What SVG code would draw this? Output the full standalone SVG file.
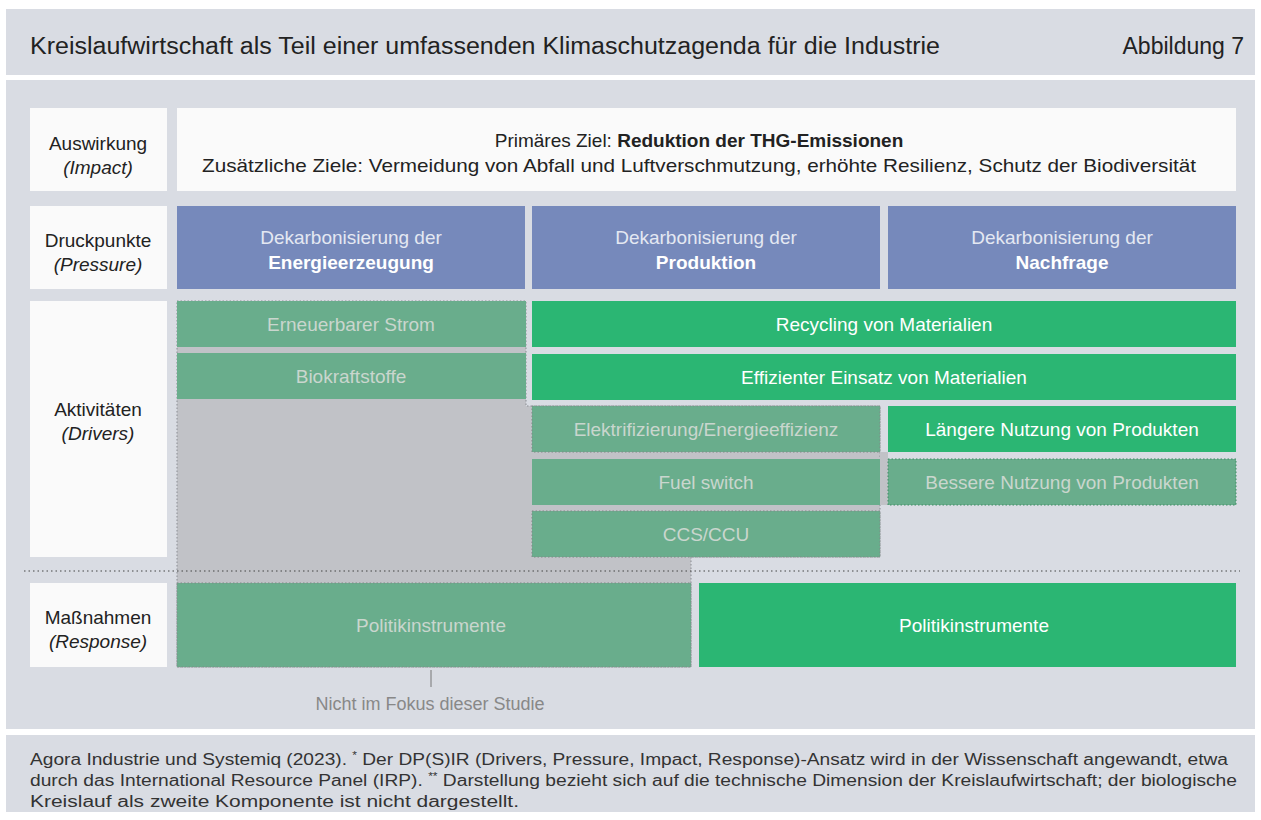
<svg xmlns="http://www.w3.org/2000/svg" width="1261" height="820" viewBox="0 0 1261 820">
<defs>
<style>
text{font-family:"Liberation Sans",Arial,sans-serif}
.band{fill:#d9dce3}
.lbl{fill:#fafafa}
.lt{font-size:19px;fill:#222;text-anchor:middle}
.li{font-size:19px;fill:#222;text-anchor:middle;font-style:italic}
.it{font-size:19px;fill:#222;text-anchor:middle}
.blue{fill:#7689bb}
.bt{font-size:19px;fill:#e4e8f2;text-anchor:middle}
.bb{font-size:19px;fill:#ffffff;text-anchor:middle;font-weight:bold}
.dull{fill:#69ad8c;stroke:#7f8a86;stroke-width:1;stroke-dasharray:1.5 2}
.dt{font-size:19px;fill:#c9d6ce;text-anchor:middle}
.bright{fill:#2bb673}
.wt{font-size:19px;fill:#ffffff;text-anchor:middle}
.ft{font-size:16px;fill:#333}
</style>
</defs>
<rect width="1261" height="820" fill="#ffffff"/>
<g id="header">
<rect class="band" x="6" y="9" width="1249" height="66"/>
<text x="30" y="54" font-size="23" fill="#222" textLength="910" lengthAdjust="spacingAndGlyphs">Kreislaufwirtschaft als Teil einer umfassenden Klimaschutzagenda für die Industrie</text>
<text x="1244" y="54" font-size="23" fill="#222" text-anchor="end">Abbildung 7</text>
</g>
<rect class="band" x="6" y="80" width="1249" height="649"/>
<g id="row-labels">
<g id="label-impact"><rect class="lbl" x="30" y="108" width="137" height="83"/><text class="lt" x="98" y="150">Auswirkung</text><text class="li" x="98" y="174">(Impact)</text></g>
<g id="label-pressure"><rect class="lbl" x="30" y="206" width="137" height="83"/><text class="lt" x="98" y="247">Druckpunkte</text><text class="li" x="98" y="271">(Pressure)</text></g>
<g id="label-drivers"><rect class="lbl" x="30" y="301" width="137" height="256"/><text class="lt" x="98" y="416">Aktivitäten</text><text class="li" x="98" y="440">(Drivers)</text></g>
<g id="label-response"><rect class="lbl" x="30" y="583" width="137" height="84"/><text class="lt" x="98" y="624">Maßnahmen</text><text class="li" x="98" y="648">(Response)</text></g>
</g>
<g id="impact">
<rect class="lbl" x="177" y="108" width="1059" height="83"/>
<text class="it" x="699" y="147">Primäres Ziel: <tspan font-weight="bold">Reduktion der THG-Emissionen</tspan></text>
<text class="it" x="699" y="172" textLength="994" lengthAdjust="spacingAndGlyphs">Zusätzliche Ziele: Vermeidung von Abfall und Luftverschmutzung, erhöhte Resilienz, Schutz der Biodiversität</text>
</g>
<g id="pressure">
<g id="p-energie"><rect class="blue" x="177" y="206" width="348" height="83"/><text class="bt" x="351" y="244">Dekarbonisierung der</text><text class="bb" x="351" y="269">Energieerzeugung</text></g>
<g id="p-produktion"><rect class="blue" x="532" y="206" width="348" height="83"/><text class="bt" x="706" y="244">Dekarbonisierung der</text><text class="bb" x="706" y="269">Produktion</text></g>
<g id="p-nachfrage"><rect class="blue" x="888" y="206" width="348" height="83"/><text class="bt" x="1062" y="244">Dekarbonisierung der</text><text class="bb" x="1062" y="269">Nachfrage</text></g>
</g>
<g id="not-in-focus">
<path d="M177,301 H526 V406 H880 V557 H691 V667 H177 Z" fill="#c1c2c7" stroke="#8a8d93" stroke-width="1" stroke-dasharray="1.5 2"/>
<rect x="880" y="452" width="8" height="53" fill="#c1c2c7"/>
</g>
<g id="drivers">
<g id="d-strom"><rect class="dull" x="177" y="301" width="349" height="46" style="stroke:none"/><text class="dt" x="351" y="331">Erneuerbarer Strom</text></g>
<g id="d-bio"><rect class="dull" x="177" y="353" width="349" height="46" style="stroke:none"/><text class="dt" x="351" y="383">Biokraftstoffe</text></g>
<g id="d-recycling"><rect class="bright" x="532" y="301" width="704" height="46"/><text class="wt" x="884" y="331">Recycling von Materialien</text></g>
<g id="d-effizient"><rect class="bright" x="532" y="354" width="704" height="46"/><text class="wt" x="884" y="384">Effizienter Einsatz von Materialien</text></g>
<g id="d-elektro"><rect class="dull" x="532" y="406" width="348" height="46"/><text class="dt" x="706" y="436">Elektrifizierung/Energieeffizienz</text></g>
<g id="d-fuel"><rect class="dull" x="532" y="459" width="348" height="46" style="stroke:none"/><text class="dt" x="706" y="489">Fuel switch</text></g>
<g id="d-ccs"><rect class="dull" x="532" y="511" width="348" height="46"/><text class="dt" x="706" y="541">CCS/CCU</text></g>
<g id="d-laenger"><rect class="bright" x="888" y="406" width="348" height="46"/><text class="wt" x="1062" y="436">Längere Nutzung von Produkten</text></g>
<g id="d-besser"><rect class="dull" x="888" y="459" width="348" height="46" style="stroke:#3f8c63"/><text class="dt" x="1062" y="489">Bessere Nutzung von Produkten</text></g>
</g>
<g id="divider">
<line x1="24" y1="571" x2="1240" y2="571" stroke="#444" stroke-width="1.2" stroke-dasharray="1.5 3"/>
</g>
<g id="response">
<g id="r-politik-dull"><rect class="dull" x="177" y="583" width="514" height="84"/><text class="dt" x="431" y="632">Politikinstrumente</text></g>
<g id="r-politik"><rect class="bright" x="699" y="583" width="537" height="84"/><text class="wt" x="974" y="632">Politikinstrumente</text></g>
</g>
<g id="connectors">
<line x1="431" y1="670" x2="431" y2="687" stroke="#777" stroke-width="1"/>
</g>
<text x="430" y="710" font-size="18" fill="#888" text-anchor="middle">Nicht im Fokus dieser Studie</text>
<g id="footer">
<rect class="band" x="6" y="735" width="1249" height="77"/>
<text class="ft" x="30" y="765" textLength="1198" lengthAdjust="spacingAndGlyphs">Agora Industrie und Systemiq (2023). <tspan font-size="10" dy="-6">*</tspan><tspan dy="6"> Der DP(S)IR (Drivers, Pressure, Impact, Response)-Ansatz wird in der Wissenschaft angewandt, etwa</tspan></text>
<text class="ft" x="30" y="786" textLength="1207" lengthAdjust="spacingAndGlyphs">durch das International Resource Panel (IRP). <tspan font-size="10" dy="-6">**</tspan><tspan dy="6"> Darstellung bezieht sich auf die technische Dimension der Kreislaufwirtschaft; der biologische</tspan></text>
<text class="ft" x="30" y="807" textLength="489" lengthAdjust="spacingAndGlyphs">Kreislauf als zweite Komponente ist nicht dargestellt.</text>
</g>
</svg>
